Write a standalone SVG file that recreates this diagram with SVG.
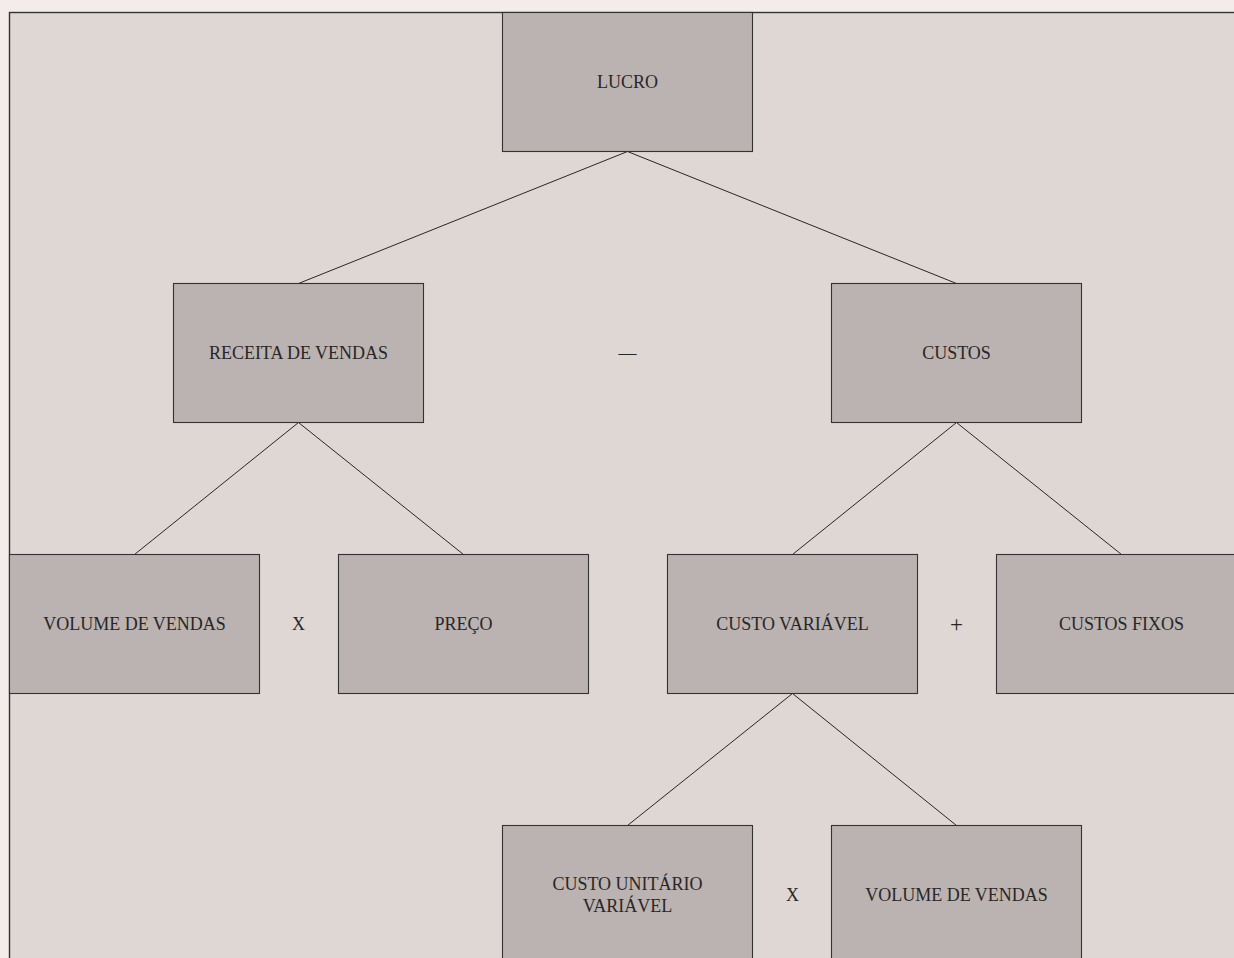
<svg xmlns="http://www.w3.org/2000/svg" width="1234" height="958" viewBox="0 0 1234 958">
<style>
.box{fill:#bab3b1;stroke:#333;stroke-width:1.1}
.t{font-family:"Liberation Serif",serif;font-size:18px;fill:#2a2626;text-anchor:middle}
.c line{stroke:#2a2626;stroke-width:1}
</style>
<rect x="0" y="0" width="1234" height="958" fill="#f3ecea"/>
<rect id="frame" x="9.5" y="12.5" width="1240" height="960" fill="#ded7d4" stroke="#333" stroke-width="1.4"/>
<g class="c" id="connectors">
<line x1="627.5" y1="151.5" x2="298.5" y2="283.5"/>
<line x1="627.5" y1="151.5" x2="956.5" y2="283.5"/>
<line x1="298.5" y1="422.5" x2="134.5" y2="554.5"/>
<line x1="298.5" y1="422.5" x2="463.5" y2="554.5"/>
<line x1="956.5" y1="422.5" x2="792.5" y2="554.5"/>
<line x1="956.5" y1="422.5" x2="1121.5" y2="554.5"/>
<line x1="792.5" y1="693.5" x2="627.5" y2="825.5"/>
<line x1="792.5" y1="693.5" x2="956.5" y2="825.5"/>
</g>
<g id="lucro"><rect class="box" x="502.5" y="12.5" width="250" height="139"/><text class="t" x="627.5" y="88">LUCRO</text></g>
<g id="receita"><rect class="box" x="173.5" y="283.5" width="250" height="139"/><text class="t" x="298.5" y="359">RECEITA DE VENDAS</text></g>
<g id="custos"><rect class="box" x="831.5" y="283.5" width="250" height="139"/><text class="t" x="956.5" y="359">CUSTOS</text></g>
<g id="volume1"><rect class="box" x="9.5" y="554.5" width="250" height="139"/><text class="t" x="134.5" y="630">VOLUME DE VENDAS</text></g>
<g id="preco"><rect class="box" x="338.5" y="554.5" width="250" height="139"/><text class="t" x="463.5" y="630">PREÇO</text></g>
<g id="custovar"><rect class="box" x="667.5" y="554.5" width="250" height="139"/><text class="t" x="792.5" y="630">CUSTO VARIÁVEL</text></g>
<g id="custosfixos"><rect class="box" x="996.5" y="554.5" width="250" height="139"/><text class="t" x="1121.5" y="630">CUSTOS FIXOS</text></g>
<g id="custounit"><rect class="box" x="502.5" y="825.5" width="250" height="139"/><text class="t" x="627.5" y="890">CUSTO UNITÁRIO</text><text class="t" x="627.5" y="911.5">VARIÁVEL</text></g>
<g id="volume2"><rect class="box" x="831.5" y="825.5" width="250" height="139"/><text class="t" x="956.5" y="901">VOLUME DE VENDAS</text></g>
<g id="operators">
<text class="t" x="627.5" y="359">—</text>
<text class="t" x="298.5" y="630">X</text>
<text class="t" x="956.5" y="632" style="font-size:23px">+</text>
<text class="t" x="792.5" y="901">X</text>
</g>
</svg>
